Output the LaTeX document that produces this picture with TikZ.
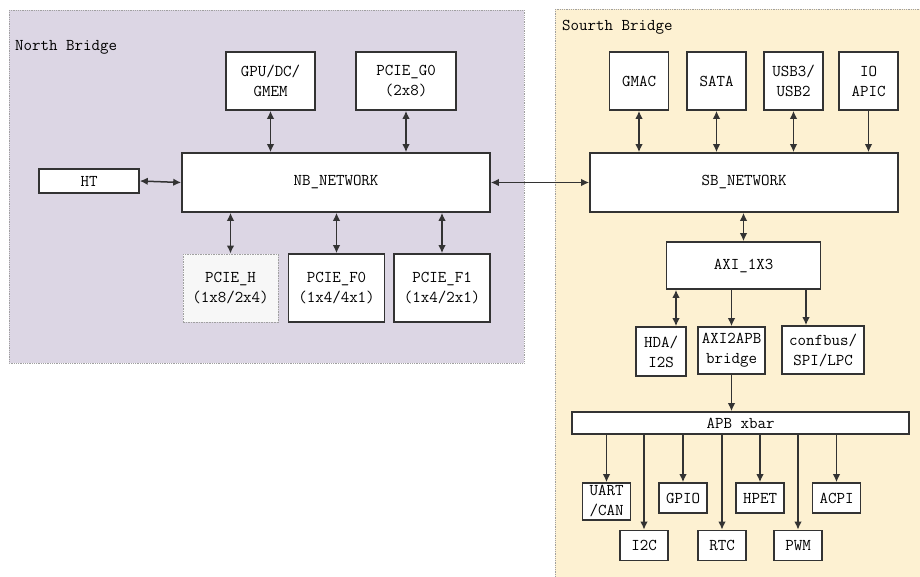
\documentclass[tikz,border=0pt]{standalone}
\usepackage{fontspec}
\usetikzlibrary{arrows.meta,positioning,calc}
\definecolor{nbfill}{HTML}{DCD6E4}
\definecolor{sbfill}{HTML}{FDF1D2}
\definecolor{edgegray}{HTML}{333333}
\definecolor{dotgray}{HTML}{A0A0A0}
\tikzset{
  region/.style  = {draw=dotgray, densely dotted, line width=0.8pt},
  reglabel/.style = {anchor=west, inner sep=0pt, font=\ttfamily\fontsize{16.5}{20}\selectfont},
  blk/.style     = {rectangle, draw=edgegray, fill=white, line width=1.6pt, align=center,
                    inner sep=0pt, font=\ttfamily\fontsize{16.5}{20}\selectfont},
  dotblk/.style  = {blk, draw=dotgray, densely dotted, line width=0.8pt, fill=white!97!black},
  netblk/.style  = {blk, minimum width=308pt, minimum height=59pt},
  topblk/.style  = {blk, minimum width=59pt, minimum height=58pt},
  pcieblk/.style = {blk, minimum width=96pt, minimum height=68pt},
  apbblk/.style  = {blk, minimum width=48pt, minimum height=30pt},
  biarr/.style   = {{Latex[length=8pt,width=7.5pt]}-{Latex[length=8pt,width=7.5pt]}, line width=1.5pt, edgegray},
  arr/.style     = {-{Latex[length=8pt,width=7.5pt]}, line width=1.5pt, edgegray},
}

\begin{document}
\begin{tikzpicture}[x=1pt, y=-1pt]
\useasboundingbox (0,0) rectangle (920,577);

% Bridge regions
\fill[nbfill] (9,10) rectangle (524,363);
\draw[region] (9,10) rectangle (524,363);
\fill[sbfill] (555,9) rectangle (935,595);
\draw[region] (555,9) rectangle (935,595);
\node[reglabel] (nblabel) at (15,47) {North Bridge};
\node[reglabel] (sblabel) at (562,27) {Sourth Bridge};

% North bridge blocks
\node[netblk] (nbnet) at (336,182.5) {NB\_NETWORK};
\node[blk, minimum width=89pt, minimum height=58pt] (gpu) at (270.5,81) {GPU/DC/\\GMEM};
\node[blk, minimum width=100pt, minimum height=58pt] (pcieg) at (406,81) {PCIE\_G0\\(2x8)};
\node[blk, minimum width=100pt, minimum height=24pt] (ht) at (89,181) {HT};
\node[dotblk, minimum width=95pt, minimum height=68pt] (pcieh) at (230.5,288) {PCIE\_H\\(1x8/2x4)};
\node[pcieblk] (pcief0) at (336.5,288) {PCIE\_F0\\(1x4/4x1)};
\node[pcieblk] (pcief1) at (442,288) {PCIE\_F1\\(1x4/2x1)};

\draw[biarr] (ht.east) -- (nbnet.west);
\foreach \m in {gpu, pcieg} {
  \draw[biarr] (\m.south) -- (\m.south |- nbnet.north);
}
\foreach \m in {pcieh, pcief0, pcief1} {
  \draw[biarr] (\m.north) -- (\m.north |- nbnet.south);
}

% South bridge blocks
\node[netblk] (sbnet) at (744,182.5) {SB\_NETWORK};
\node[topblk] (gmac) at (639,81) {GMAC};
\node[topblk] (sata) at (716.5,81) {SATA};
\node[topblk] (usb) at (793.5,81) {USB3/\\USB2};
\node[topblk] (ioapic) at (868.5,81) {IO\\APIC};

\draw[biarr] (nbnet.east) -- (sbnet.west);
\foreach \m in {gmac, sata, usb} {
  \draw[biarr] (\m.south) -- (\m.south |- sbnet.north);
}
\draw[arr] (ioapic.south) -- (ioapic.south |- sbnet.north);

\node[blk, minimum width=154pt, minimum height=47pt] (axi) at (743.5,265.5) {AXI\_1X3};
\draw[biarr] (axi.north) -- (axi.north |- sbnet.south);

\node[blk, minimum width=50pt, minimum height=49pt] (hda) at (661,351.5) {HDA/\\I2S};
\node[blk, minimum width=67pt, minimum height=47pt] (axiapb) at (731.5,350.5) {AXI2APB\\bridge};
\node[blk, minimum width=82pt, minimum height=48pt] (confbus) at (823,350) {confbus/\\SPI/LPC};

\draw[biarr] ([xshift=15pt]hda.north) -- ([xshift=15pt]hda.north |- axi.south);
\draw[arr] (axiapb.north |- axi.south) -- (axiapb.north);
\draw[arr] ([xshift=-17pt]confbus.north |- axi.south) -- ([xshift=-17pt]confbus.north);

% APB peripherals
\node[blk, minimum width=337pt, minimum height=22pt] (apb) at (740.5,423) {APB xbar};
\draw[arr] (axiapb.south) -- (axiapb.south |- apb.north);

\node[apbblk, minimum height=37pt] (uart) at (606.5,501.5) {UART\\/CAN};
\node[apbblk] (gpio) at (683,498) {GPIO};
\node[apbblk] (hpet) at (760,498) {HPET};
\node[apbblk] (acpi) at (836.5,498) {ACPI};
\node[apbblk] (i2c) at (644,545.5) {I2C};
\node[apbblk] (rtc) at (722,545.5) {RTC};
\node[apbblk] (pwm) at (798,545.5) {PWM};

\foreach \m in {uart, gpio, hpet, acpi, i2c, rtc, pwm} {
  \draw[arr] (\m.north |- apb.south) -- (\m.north);
}
\end{tikzpicture}
\end{document}
